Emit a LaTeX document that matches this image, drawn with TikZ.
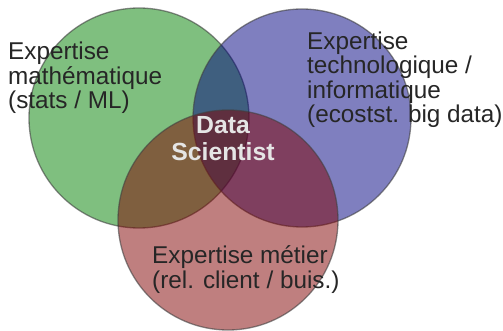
\documentclass[tikz,border=0pt]{standalone}
\usepackage{fontspec}
\setmainfont{Liberation Sans}
\begin{document}
\begin{tikzpicture}[x=1pt,y=-1pt,
  venn/.style={draw=black!75,draw opacity=0.6,line width=1.3pt,fill opacity=0.5},
  lbl/.style={anchor=base west,align=left,inner sep=0pt,text=black!85,font=\fontsize{24.3}{24.5}\selectfont},
  ds/.style={anchor=base,align=center,inner sep=0pt,text=black!10,font=\bfseries\fontsize{24.8}{27}\selectfont}]
\useasboundingbox (0,0) rectangle (503,331);
\fill[white] (0,0) rectangle (503,331);
\draw[venn,fill={rgb,255:red,0;green,128;blue,0}] (139,118) circle (110);
\draw[venn,fill={rgb,255:red,0;green,0;blue,128}] (302,118) circle (109);
\draw[venn,fill={rgb,255:red,128;green,0;blue,0}] (228,220) circle (110);
\node[lbl] (math) at (8,109) {Expertise\\math\'ematique\\(stats / ML)};
\node[lbl] (tech) at (307,123) {Expertise\\technologique /\\informatique\\(ecostst. big data)};
\node[lbl] (metier) at (152,288) {Expertise m\'etier\\(rel. client / buis.)};
\node[ds] (data) at (223,161) {Data\\Scientist};
\end{tikzpicture}
\end{document}
